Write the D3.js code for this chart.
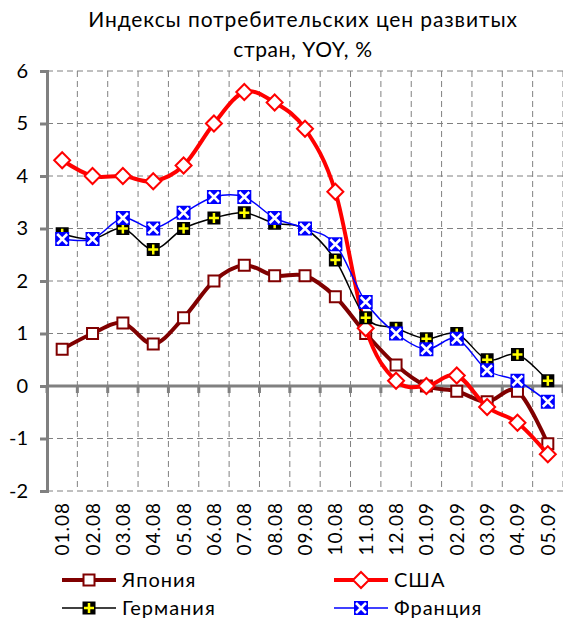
<!DOCTYPE html>
<html lang="ru">
<head>
<meta charset="UTF-8">
<title>CPI</title>
<style>
  body{margin:0;background:#fff;}
  text{font-family:Lato,"Open Sans",sans-serif;fill:#000;}
  .grid line{stroke:#808080;stroke-width:1px;stroke-dasharray:6,4;}
</style>
<script src="https://d3js.org/d3.v7.min.js"></script>
</head>
<body>
<div class="canvas"></div>
<script>
const months = ['01.08','02.08','03.08','04.08','05.08','06.08','07.08','08.08','09.08',
                '10.08','11.08','12.08','01.09','02.09','03.09','04.09','05.09'];
const japan   = [0.7,1.0,1.2,0.8,1.3,2.0,2.3,2.1,2.1,1.7,1.0,0.4,0.0,-0.1,-0.3,-0.1,-1.1];
const usa     = [4.3,4.0,4.0,3.9,4.2,5.0,5.6,5.4,4.9,3.7,1.1,0.1,0.0,0.2,-0.4,-0.7,-1.3];
const germany = [2.9,2.8,3.0,2.6,3.0,3.2,3.3,3.1,3.0,2.4,1.3,1.1,0.9,1.0,0.5,0.6,0.1];
const france  = [2.8,2.8,3.2,3.0,3.3,3.6,3.6,3.2,3.0,2.7,1.6,1.0,0.7,0.9,0.3,0.1,-0.3];
const yTicks  = [-2,-1,0,1,2,3,4,5,6];

const series = [
  {name:'Япония',   values:japan,   color:'#800000', width:4,   marker:'square'},
  {name:'США',      values:usa,     color:'#ff0000', width:4,   marker:'diamond'},
  {name:'Германия', values:germany, color:'#000000', width:1.5, marker:'plus'},
  {name:'Франция',  values:france,  color:'#0000ff', width:1.5, marker:'cross'}
];

const W = 563, H = 621;
const plotL = 47, plotR = 563, plotT = 71, plotB = 491;

const svg = d3.select('.canvas').append('svg').attr('width',W).attr('height',H);

const x = d3.scaleBand().domain(months).range([plotL,plotR]);
const y = d3.scaleLinear().domain([-2,6]).range([plotB,plotT]);
const bounds = d3.range(months.length+1).map(i => plotL + i*x.bandwidth());

// title
svg.append('text').attr('x',303).attr('y',27).attr('text-anchor','middle')
   .style('font-size','21px').style('letter-spacing','0.9px')
   .text('Индексы потребительских цен развитых');
svg.append('text').attr('x',303).attr('y',57).attr('text-anchor','middle')
   .style('font-size','21px').style('letter-spacing','0.6px').text('стран, YOY, %');

// grid
const grid = svg.append('g').attr('class','grid');
grid.selectAll('.h').data(yTicks).enter().append('line')
  .attr('x1',plotL).attr('x2',plotR).attr('y1',d=>y(d)).attr('y2',d=>y(d));
grid.selectAll('.v').data(bounds.slice(1)).enter().append('line')
  .attr('x1',d=>d).attr('x2',d=>d).attr('y1',plotT).attr('y2',plotB);

// y axis
const yAxis = svg.append('g').attr('transform',`translate(${plotL},0)`)
  .call(d3.axisLeft(y).tickValues(yTicks).tickSize(7).tickFormat(d=>String(d)));
yAxis.select('.domain').attr('stroke','#808080').attr('stroke-width',3);
yAxis.selectAll('.tick line').attr('stroke','#808080').attr('stroke-width',3);
yAxis.selectAll('.tick text').attr('x',-19).style('font-size','20px').attr('fill','#000')
  .style('font-family','Lato,"Open Sans",sans-serif');

// zero axis with ticks at category bounds
const xAxis = svg.append('g');
xAxis.append('line').attr('x1',plotL).attr('x2',plotR).attr('y1',y(0)).attr('y2',y(0))
  .attr('stroke','#808080').attr('stroke-width',3);
xAxis.selectAll('.t').data(bounds).enter().append('line')
  .attr('x1',d=>d).attr('x2',d=>d).attr('y1',y(0)).attr('y2',y(0)+7)
  .attr('stroke','#808080').attr('stroke-width',3);

// category labels
svg.append('g').selectAll('text').data(months).enter().append('text')
  .attr('transform',d=>`translate(${x(d)+x.bandwidth()/2+7},${plotB+11}) rotate(-90)`)
  .attr('text-anchor','end').style('font-size','19px').style('letter-spacing','1px').text(d=>d);

// markers
function drawMarker(g, type, color){
  if(type==='square'){
    g.append('rect').attr('x',-5.5).attr('y',-5.5).attr('width',11).attr('height',11)
      .attr('fill','#fff').attr('stroke',color).attr('stroke-width',2);
  } else if(type==='diamond'){
    g.append('path').attr('d','M0,-8L8,0L0,8L-8,0Z')
      .attr('fill','#fff').attr('stroke',color).attr('stroke-width',2);
  } else if(type==='plus'){
    g.append('rect').attr('x',-6.5).attr('y',-6.5).attr('width',13).attr('height',13).attr('fill','#000');
    g.append('path').attr('d','M-5,0H5M0,-5V5').attr('stroke','#ffff00').attr('stroke-width',2.5);
  } else {
    g.append('rect').attr('x',-7).attr('y',-7).attr('width',14).attr('height',14).attr('fill','#0000ff');
    g.append('path').attr('d','M-5,-5L5,5M5,-5L-5,5').attr('stroke','#fff').attr('stroke-width',2.5);
  }
}

const line = d3.line().x((d,i)=>x(months[i])+x.bandwidth()/2).y(d=>y(d))
  .curve(d3.curveCardinal.tension(0));

series.forEach(s=>{
  const g = svg.append('g');
  g.append('path').datum(s.values).attr('d',line)
    .attr('fill','none').attr('stroke',s.color).attr('stroke-width',s.width)
    .attr('stroke-linejoin','round');
  g.selectAll('g').data(s.values).enter().append('g')
    .attr('transform',(d,i)=>`translate(${x(months[i])+x.bandwidth()/2},${y(d)})`)
    .each(function(){ drawMarker(d3.select(this), s.marker, s.color); });
});

// legend
const legendPos = [[62,580],[334,580],[62,608],[334,608]];
series.forEach((s,i)=>{
  const [lx,ly] = legendPos[i];
  const g = svg.append('g').attr('transform',`translate(${lx},${ly})`);
  g.append('line').attr('x1',0).attr('x2',54).attr('stroke',s.color).attr('stroke-width',s.width);
  const m = g.append('g').attr('transform','translate(27,0)');
  drawMarker(m, s.marker, s.color);
  g.append('text').attr('x',60).attr('y',7).style('font-size','20px').style('letter-spacing','1px')
    .text(s.name);
});
</script>
</body>
</html>
